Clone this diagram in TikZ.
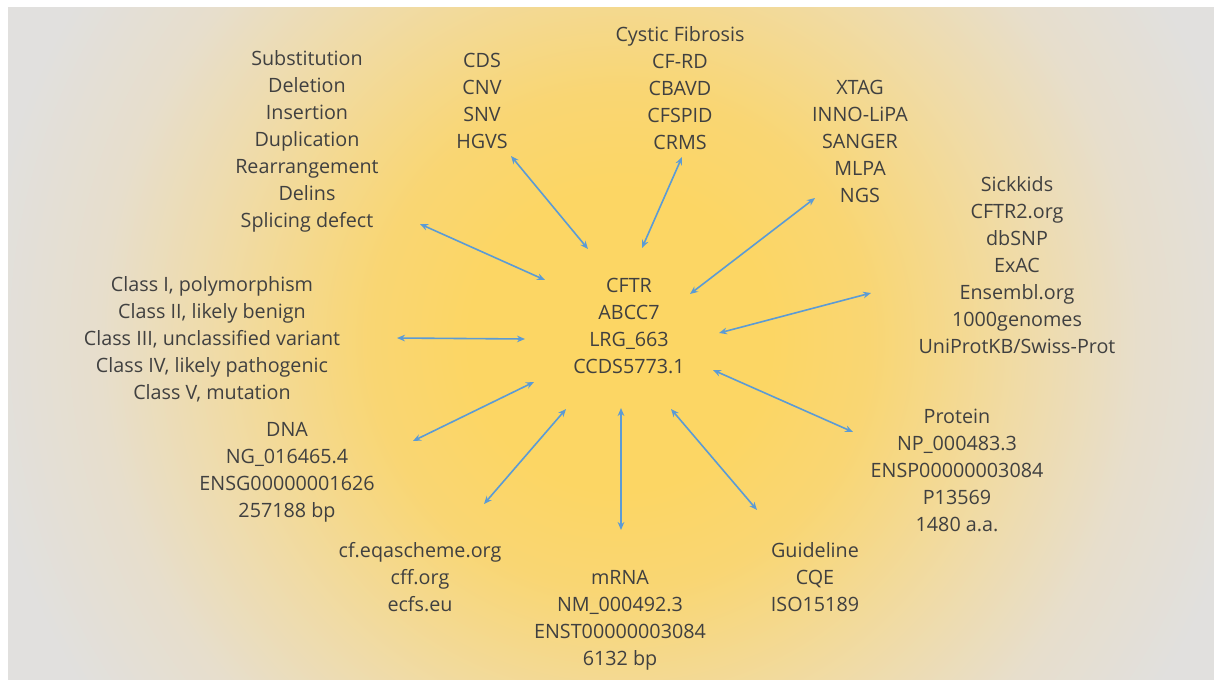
\documentclass[tikz,border=0pt]{standalone}
\usepackage{fontspec}
\setmainfont{Open Sans}
\usetikzlibrary{arrows.meta}
\definecolor{txt}{HTML}{404040}
\definecolor{arr}{HTML}{5B9BD5}
\definecolor{bgA}{HTML}{FCD664}
\definecolor{bgB}{HTML}{F9D673}
\definecolor{bgC}{HTML}{F0DBA6}
\definecolor{bgD}{HTML}{E7DECC}
\definecolor{bgE}{HTML}{E1E0DE}
\pgfdeclareradialshading{bgshade}{\pgfpoint{0bp}{0bp}}{color(0bp)=(bgA); color(5.4bp)=(bgA); color(8.9bp)=(bgB); color(14.3bp)=(bgC); color(18.6bp)=(bgD); color(22.9bp)=(bgE); color(50bp)=(bgE)}
\tikzset{
  lbl/.style={text=txt, align=center, inner sep=0pt, font=\fontsize{14.8}{20.25}\selectfont},
  link/.style={draw=arr, line width=1.2pt, {Stealth[length=6pt,width=5pt]}-{Stealth[length=6pt,width=5pt]}}
}
\begin{document}
\begin{tikzpicture}[x=0.75pt,y=-0.75pt]
\useasboundingbox (0,0) rectangle (1214,679);
\fill[white] (0,0) rectangle (1214,679);
\begin{scope}
\clip (8,7) rectangle (1214,679);
\shade[shading=bgshade] (620,340) circle (525pt);
\end{scope}
% text groups
\node[lbl] (mut) at (307,141) {Substitution\\Deletion\\Insertion\\Duplication\\Rearrangement\\Delins\\Splicing defect};
\node[lbl] (nom) at (482,100.5) {CDS\\CNV\\SNV\\HGVS};
\node[lbl] (dis) at (680,88) {Cystic Fibrosis\\CF-RD\\CBAVD\\CFSPID\\CRMS};
\node[lbl] (met) at (860,141) {XTAG\\INNO-LiPA\\SANGER\\MLPA\\NGS};
\node[lbl] (dbs) at (1017,265.5) {Sickkids\\CFTR2.org\\dbSNP\\ExAC\\Ensembl.org\\1000genomes\\UniProtKB/Swiss-Prot};
\node[lbl] (gene) at (629,325.5) {CFTR\\ABCC7\\LRG\_663\\CCDS5773.1};
\node[lbl] (cls) at (212,339) {Class I, polymorphism\\Class II, likely benign\\Class III, unclassified variant\\Class IV, likely pathogenic\\Class V, mutation};
\node[lbl] (dna) at (287,472.5) {DNA\\NG\_016465.4\\ENSG00000001626\\257188 bp};
\node[lbl] (eqa) at (420,577) {cf.eqascheme.org\\cff.org\\ecfs.eu};
\node[lbl] (rna) at (620,620.5) {mRNA\\NM\_000492.3\\ENST00000003084\\6132 bp};
\node[lbl] (gui) at (815,577) {Guideline\\CQE\\ISO15189};
\node[lbl] (pro) at (957,470) {Protein\\NP\_000483.3\\ENSP00000003084\\P13569\\1480 a.a.};
% arrow end points
\coordinate (mutE) at (420,224);  \coordinate (mutC) at (545,280);
\coordinate (nomE) at (511,156);  \coordinate (nomC) at (588,249);
\coordinate (disE) at (682,157);  \coordinate (disC) at (642,248);
\coordinate (metE) at (815,198);  \coordinate (metC) at (690,294);
\coordinate (dbsE) at (871,293);  \coordinate (dbsC) at (719,333);
\coordinate (clsE) at (397,338);  \coordinate (clsC) at (525,339);
\coordinate (dnaE) at (413,441);  \coordinate (dnaC) at (534,382);
\coordinate (eqaE) at (484,504);  \coordinate (eqaC) at (566,409);
\coordinate (rnaE) at (621,530);  \coordinate (rnaC) at (621,408);
\coordinate (guiE) at (757,510);  \coordinate (guiC) at (671,409);
\coordinate (proE) at (853,432);  \coordinate (proC) at (713,370);
\foreach \g in {mut,nom,dis,met,dbs,cls,dna,eqa,rna,gui,pro}
  \draw[link] (\g E) -- (\g C);
\end{tikzpicture}
\end{document}
